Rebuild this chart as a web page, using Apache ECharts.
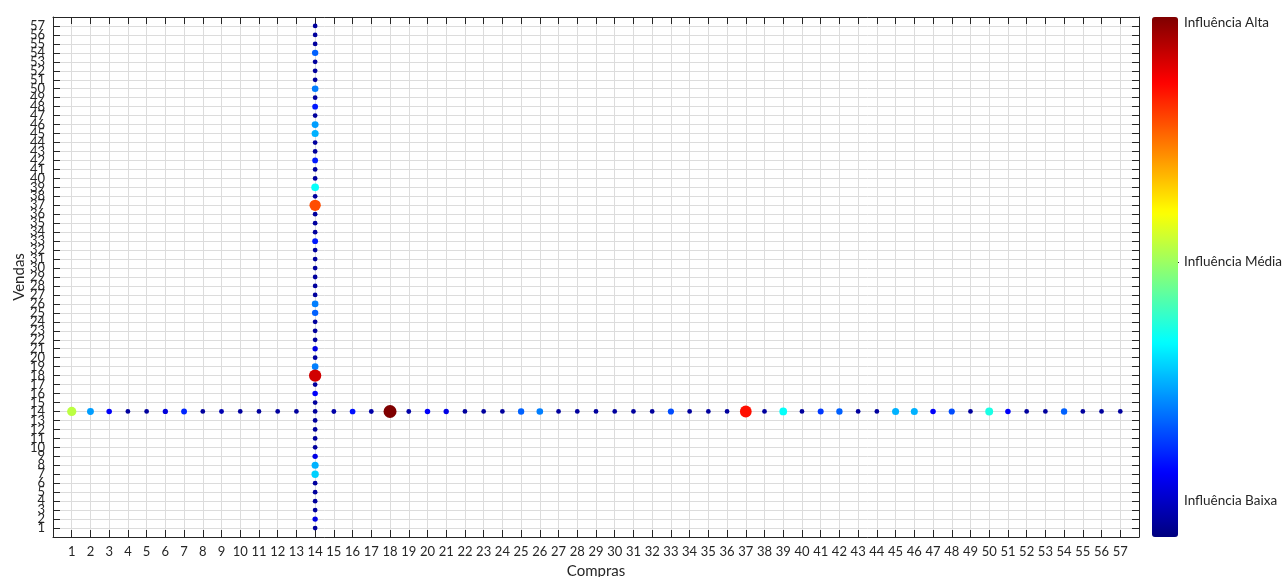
<!DOCTYPE html>
<html>
<head>
<meta charset="utf-8">
<script src="https://cdn.jsdelivr.net/npm/echarts@6/dist/echarts.min.js"></script>
<style>
  html, body { margin: 0; padding: 0; background: #fff; }
  #chart { width: 1287px; height: 577px; }
</style>
</head>
<body>
<div id="chart"></div>
<script>
// influencia (0 = baixa, 1 = alta) ao longo da linha Vendas = 14, Compras 1..57
const comprasInfluence = [
    0.56, 0.28, 0.12, 0.03, 0.03, 0.09, 0.16, 0.03, 0.05, 0.03,
    0.03, 0.03, 0.03, null, 0.04, 0.14, 0.04, 1.00, 0.04, 0.12,
    0.10, 0.03, 0.03, 0.03, 0.22, 0.25, 0.03, 0.03, 0.03, 0.03,
    0.03, 0.03, 0.20, 0.03, 0.03, 0.03, 0.86, 0.03, 0.38, 0.03,
    0.18, 0.22, 0.03, 0.03, 0.30, 0.30, 0.12, 0.20, 0.03, 0.40,
    0.12, 0.03, 0.03, 0.22, 0.03, 0.03, 0.03
];
// influencia ao longo da coluna Compras = 14, Vendas 1..57
const vendasInfluence = [
    0.03, 0.10, 0.03, 0.03, 0.03, 0.03, 0.33, 0.30, 0.10, 0.03,
    0.03, 0.03, 0.03, 0.03, 0.03, 0.12, 0.03, 0.92, 0.25, 0.03,
    0.10, 0.03, 0.03, 0.03, 0.22, 0.25, 0.03, 0.03, 0.03, 0.03,
    0.03, 0.03, 0.15, 0.03, 0.03, 0.03, 0.80, 0.03, 0.38, 0.03,
    0.03, 0.15, 0.03, 0.03, 0.30, 0.28, 0.03, 0.15, 0.03, 0.25,
    0.03, 0.03, 0.03, 0.22, 0.03, 0.03, 0.03
];
const fixedVendas = 14;
const fixedCompras = 14;
const colorbarLabels = ['Influência Alta', 'Influência Média', 'Influência Baixa'];
const jetColors = ['#00007f', '#0000ff', '#007fff', '#00ffff', '#7fff7f',
                   '#ffff00', '#ff7f00', '#ff0000', '#7f0000'];

const points = [];
comprasInfluence.forEach((v, i) => {
    if (v !== null) points.push([i + 1, fixedVendas, v]);
});
vendasInfluence.forEach((v, i) => {
    points.push([fixedCompras, i + 1, v]);
});
points.sort((a, b) => a[2] - b[2]); // maiores por cima

const textColor = '#262626';
const fontFamily = 'Lato, "Open Sans", sans-serif';

function axisBase(pos, showLabels) {
    return {
        type: 'value',
        position: pos,
        min: 0,
        max: 58,
        interval: 1,
        axisLine: { show: true, onZero: false, lineStyle: { color: textColor, width: 1 } },
        axisTick: { show: true, inside: true, length: 7, lineStyle: { color: textColor } },
        axisLabel: {
            show: showLabels,
            color: textColor,
            fontSize: 13,
            fontFamily: fontFamily,
            margin: 8,
            formatter: v => (v >= 1 && v <= 57 ? String(v) : '')
        },
        splitLine: { show: showLabels, lineStyle: { color: '#dcdcdc', width: 1 } }
    };
}

const chart = echarts.init(document.getElementById('chart'));

const xBottom = axisBase('bottom', true);
xBottom.name = 'Compras';
xBottom.nameLocation = 'middle';
xBottom.nameGap = 27;
xBottom.nameMoveOverlap = false;
xBottom.nameTextStyle = { color: textColor, fontSize: 15, fontFamily: fontFamily };

const yLeft = axisBase('left', true);
yLeft.name = 'Vendas';
yLeft.nameLocation = 'middle';
yLeft.nameGap = 26;
yLeft.nameMoveOverlap = false;
yLeft.nameTextStyle = { color: textColor, fontSize: 15, fontFamily: fontFamily };

const labelFont = '13.5px ' + fontFamily;

const option = {
    backgroundColor: '#ffffff',
    animation: false,
    grid: { left: 53, right: 148, top: 17, bottom: 40, outerBoundsMode: 'none', containLabel: false },
    xAxis: [xBottom, axisBase('top', false)],
    yAxis: [yLeft, axisBase('right', false)],
    visualMap: [
        {
            type: 'continuous',
            seriesIndex: 0,
            dimension: 2,
            min: 0,
            max: 1,
            calculable: false,
            orient: 'vertical',
            left: 1152,
            top: 17,
            padding: 0,
            itemWidth: 26,
            itemHeight: 520,
            inRange: { color: jetColors }
        },
        {
            type: 'continuous',
            show: false,
            seriesIndex: 0,
            dimension: 2,
            min: 0,
            max: 1,
            inRange: { symbolSize: [4.5, 13] }
        }
    ],
    graphic: [
        { type: 'text', left: 1184, top: 16, style: { text: colorbarLabels[0], fill: textColor, font: labelFont } },
        { type: 'text', left: 1184, top: 255, style: { text: colorbarLabels[1], fill: textColor, font: labelFont } },
        { type: 'text', left: 1184, top: 494, style: { text: colorbarLabels[2], fill: textColor, font: labelFont } },
        { type: 'line', shape: { x1: 1176, y1: 262.5, x2: 1179, y2: 262.5 }, style: { stroke: textColor, lineWidth: 1 } }
    ],
    series: [
        {
            type: 'scatter',
            xAxisIndex: 0,
            yAxisIndex: 0,
            symbol: 'circle',
            data: points,
            itemStyle: { opacity: 1 }
        }
    ]
};

chart.setOption(option);
</script>
</body>
</html>
